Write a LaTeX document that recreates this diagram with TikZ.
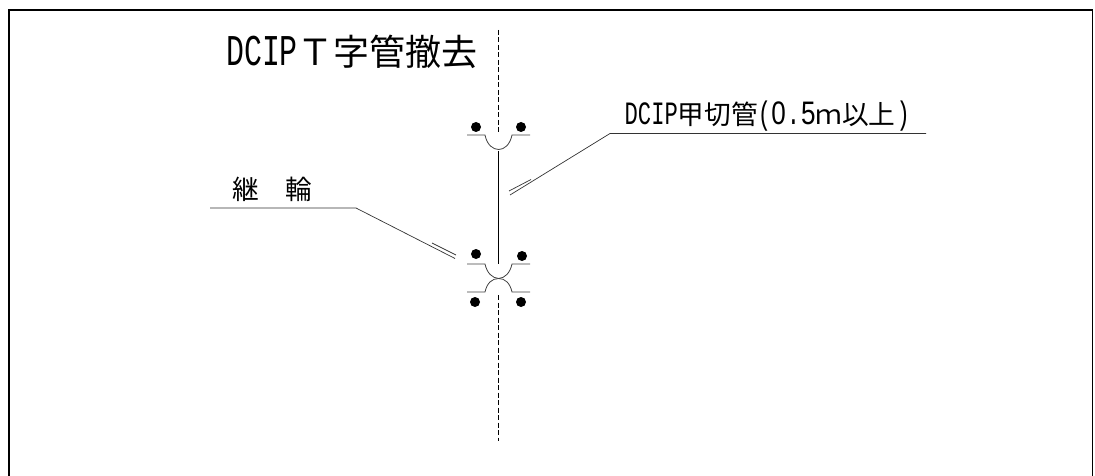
\documentclass[tikz,border=0pt]{standalone}
\usepackage{fontspec}
\newfontfamily\cjkfont{Noto Sans CJK JP}
\newfontfamily\latnfont[Scale=1.22,FakeStretch=0.68]{Liberation Mono}
\newfontfamily\digitfont[Scale=1.22,FakeStretch=0.8]{Liberation Sans}
\tikzset{
  frameline/.style={line width=1.8pt,black},
  pipeline/.style={line width=1pt,black},
  axisline/.style={line width=.9pt,black,dash pattern=on 5pt off 2.5pt},
  flangeline/.style={line width=.8pt,black!75},
  leaderline/.style={line width=.7pt,black!80},
  bolt/.style={circle,fill=black,inner sep=0pt,minimum size=10pt},
  titlelabel/.style={anchor=base west,inner sep=0pt,font=\cjkfont\fontsize{36}{36}\selectfont},
  partlabel/.style={anchor=base west,inner sep=0pt,font=\cjkfont\fontsize{26.7}{27}\selectfont},
}
\begin{document}
\begin{tikzpicture}[x=1pt,y=1pt]
  \useasboundingbox (0,0) rectangle (1095,-476);
  % frame, open at the bottom
  \draw[frameline] (9,-476) -- (9,-10) -- (1092.5,-10) -- (1092.5,-476);

  % labels
  \node[titlelabel] (title) at (226,-66) {{\latnfont DCIP}Ｔ字管撤去};
  \node[partlabel] (pipelabel) at (624.5,-124.5) {{\latnfont DCIP}甲切管{\latnfont (}{\digitfont 0}\hspace{1pt}{\latnfont .}\hspace{1pt}{\digitfont 5}ｍ以上\hspace{1pt}{\latnfont )}};
  \node[partlabel] (jointlabel) at (232,-199) {継　輪};

  % centre line and pipe
  \coordinate (axistop) at (498.7,-30);
  \coordinate (axisa) at (498.7,-133);
  \coordinate (axisb) at (498.7,-295);
  \coordinate (axisend) at (498.7,-441);
  \coordinate (pipetop) at (498.7,-151);
  \coordinate (pipeend) at (498.7,-264);
  \draw[axisline] (axistop) -- (axisa);
  \draw[axisline] (axisb) -- (axisend);
  \draw[pipeline] (pipetop) -- (pipeend);

  % upper socket
  \node[bolt] (bolta) at (476,-127) {};
  \node[bolt] (boltb) at (521,-127) {};
  \draw[flangeline] (467,-135) -- (485,-135) .. controls (487,-145) and (493,-149.5) .. (498.7,-149.5)
    .. controls (504,-149.5) and (510,-145) .. (512,-135) -- (530,-135);

  % joint
  \node[bolt] (boltc) at (476,-254) {};
  \node[bolt] (boltd) at (522,-256) {};
  \node[bolt] (bolte) at (475,-302) {};
  \node[bolt] (boltf) at (521,-302) {};
  \draw[flangeline] (467,-264) -- (485,-264) .. controls (487,-273) and (492,-278) .. (498.7,-278.5)
    .. controls (505,-278) and (510,-273) .. (512,-264) -- (530,-264);
  \draw[flangeline] (467,-292) -- (485,-292) .. controls (487,-283) and (492,-278.5) .. (498.7,-278.5)
    .. controls (505,-278.5) and (510,-283) .. (512,-292) -- (530,-292);

  % leaders
  \coordinate (pipeleada) at (926,-133.5);
  \coordinate (pipeleadb) at (610,-133.5);
  \coordinate (pipeleadc) at (510,-195);
  \coordinate (pipeleadd) at (509,-191);
  \coordinate (pipeleade) at (531,-179.5);
  \draw[leaderline] (pipeleada) -- (pipeleadb) -- (pipeleadc);
  \draw[leaderline] (pipeleadd) -- (pipeleade);
  \coordinate (jointleada) at (210,-208);
  \coordinate (jointleadb) at (356,-208);
  \coordinate (jointleadc) at (455,-258.5);
  \coordinate (jointleadd) at (432,-243);
  \coordinate (jointleade) at (456,-255);
  \draw[leaderline] (jointleada) -- (jointleadb) -- (jointleadc);
  \draw[leaderline] (jointleadd) -- (jointleade);
\end{tikzpicture}
\end{document}
